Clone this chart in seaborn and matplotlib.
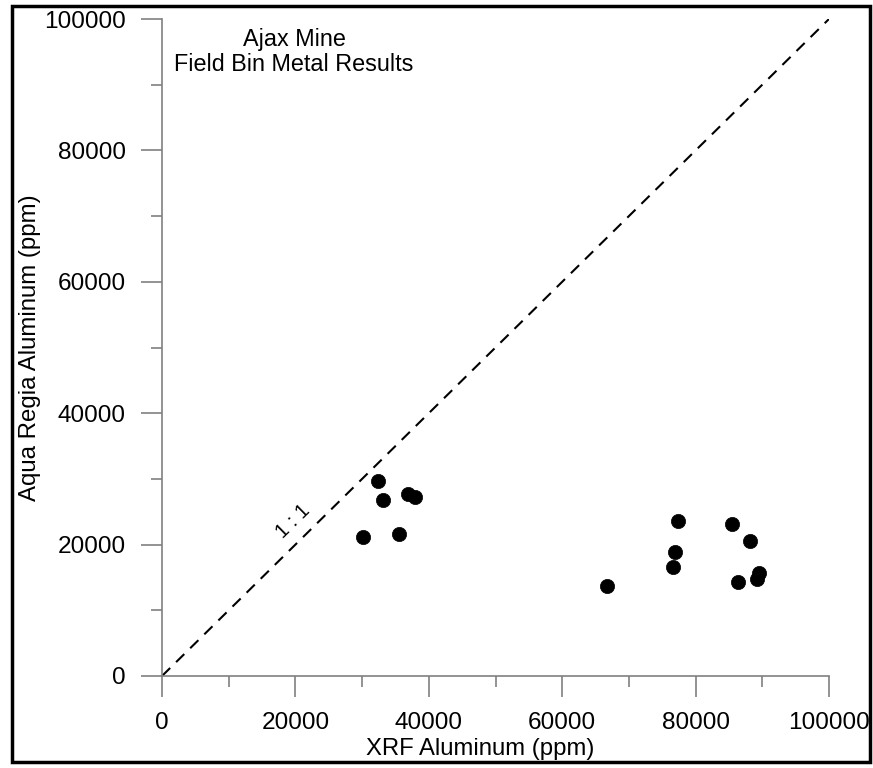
import matplotlib
matplotlib.use("Agg")

import numpy as np
import pandas as pd
import matplotlib.pyplot as plt
from matplotlib.patches import Rectangle
from matplotlib.ticker import MultipleLocator, StrMethodFormatter
import seaborn as sns

# XRF vs aqua regia aluminum (ppm)
xrf_al = [30100, 32400, 33100, 35500, 36900, 37900,
          66700, 77300, 76900, 76600, 85500, 88100, 86400, 89500, 89200]
aqua_al = [21100, 29700, 26800, 21600, 27700, 27300,
           13700, 23600, 18800, 16600, 23100, 20600, 14300, 15700, 14700]
one_to_one = [0, 100000]
ticks = [0, 20000, 40000, 60000, 80000, 100000]

df = pd.DataFrame({"xrf": xrf_al, "aqua": aqua_al})

sns.set_style("ticks")
plt.rcParams["font.family"] = ["Liberation Sans", "DejaVu Sans"]
plt.rcParams["text.color"] = "black"
plt.rcParams["axes.labelcolor"] = "black"

fig = plt.figure(figsize=(8.73, 7.68), dpi=100)
ax = fig.add_axes([162 / 873, 1 - 676 / 768, (829 - 162) / 873, (676 - 19) / 768])

ax.plot(one_to_one, one_to_one, color="black", lw=1.5, ls=(0, (5.5, 4)), zorder=1)
sns.scatterplot(data=df, x="xrf", y="aqua", color="black", s=105,
                edgecolor="black", linewidth=0.5, ax=ax, zorder=3)

ax.set_xlim(0, 100000)
ax.set_ylim(0, 100000)
ax.set_xticks(ticks)
ax.set_yticks(ticks)
ax.xaxis.set_minor_locator(MultipleLocator(10000))
ax.yaxis.set_minor_locator(MultipleLocator(10000))
ax.xaxis.set_major_formatter(StrMethodFormatter("{x:.0f}"))
ax.yaxis.set_major_formatter(StrMethodFormatter("{x:.0f}"))
ax.tick_params(which="major", direction="out", length=15, width=1.2,
               color="#808080", labelcolor="black", labelsize=17.6, pad=11)
ax.tick_params(which="minor", direction="out", length=8, width=1.2, color="#808080")

for side in ["top", "right"]:
    ax.spines[side].set_visible(False)
for side in ["left", "bottom"]:
    ax.spines[side].set_color("#808080")
    ax.spines[side].set_linewidth(1.2)

ax.set_xlabel("XRF Aluminum (ppm)", fontsize=17.2, labelpad=2.5, x=0.477)
ax.set_ylabel("Aqua Regia Aluminum (ppm)", fontsize=17.3, labelpad=2.5)

ax.text(19800, 95000, "Ajax Mine\nField Bin Metal Results", fontsize=16.8,
        ha="center", va="center", multialignment="center", linespacing=1.1)
ax.text(19600, 23500, "1 : 1", fontsize=14.5, rotation=44.5,
        ha="center", va="center", rotation_mode="anchor")

fig.patches.append(Rectangle((11.5 / 873, 6.5 / 768), (869.5 - 11.5) / 873,
                             (762.5 - 6.5) / 768, transform=fig.transFigure,
                             fill=False, edgecolor="black", lw=2.5))

fig.savefig("out.png", dpi=100)
plt.close(fig)
